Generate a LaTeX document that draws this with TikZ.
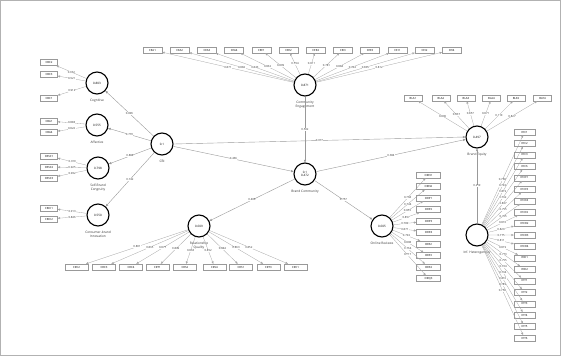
\documentclass[tikz,border=0pt]{standalone}
\usepackage{fontspec}
\setmainfont{Open Sans}
\usetikzlibrary{arrows.meta}
\begin{document}
\begin{tikzpicture}[x=1pt,y=-1pt,
  lv/.style={circle,draw=black,line width=1.1pt,minimum size=22pt,inner sep=0pt,align=center,font=\fontsize{3}{3.4}\selectfont},
  ind/.style={rectangle,draw=gray!80,line width=0.35pt,minimum width=19pt,minimum height=6pt,inner sep=0pt,font=\fontsize{2.8}{3}\selectfont},
  lbl/.style={font=\fontsize{3.2}{3.6}\selectfont,align=center,text=black!80},
  ld/.style={-{Triangle[length=2.4pt,width=2pt]},draw=gray!70,line width=0.3pt},
  pth/.style={-{Triangle[length=2.6pt,width=2.2pt]},draw=gray!80,line width=0.4pt},
  num/.style={midway,fill=white,inner sep=0.3pt,font=\fontsize{2.8}{3}\selectfont,text=black!80}]
\useasboundingbox (0,0) rectangle (561,356);
\draw[gray!60,line width=0.5pt] (0.5,0.5) rectangle (560.5,355.5);
% latent variables
\node[lv] (CE) at (305,85) {0.871};
\node[lbl,below=1pt] at (CE.south) {Community\\Engagement};
\node[lv] (CBI) at (162,144) {0.1};
\node[lbl,below=1pt] at (CBI.south) {CBI};
\node[lv] (BC) at (305,174) {0.1\\0.472};
\node[lbl,below=1pt] at (BC.south) {Brand Community};
\node[lv] (BE) at (477,137) {0.497};
\node[lbl,below=1pt] at (BE.south) {Brand Equity};
\node[lv] (OR) at (382,226) {0.605};
\node[lbl,below=1pt] at (OR.south) {Online Reviews};
\node[lv] (RQ) at (199,226) {0.609};
\node[lbl,below=1pt] at (RQ.south) {Relationship\\Quality};
\node[lv] (IH) at (477,235) {};
\node[lbl,below=1pt] at (IH.south) {Inf. Heterogeneity};
\node[lv] (COG) at (97,83) {0.803};
\node[lbl,below=1pt] at (COG.south) {Cognitive};
\node[lv] (AFF) at (97,125) {0.555};
\node[lbl,below=1pt] at (AFF.south) {Affective};
\node[lv] (SBC) at (98,168) {0.798};
\node[lbl,below=1pt] at (SBC.south) {Self-Brand\\Congruity};
\node[lv] (CBIN) at (98,215) {0.550};
\node[lbl,below=1pt] at (CBIN.south) {Consumer-brand\\Innovation};
% structural paths
\draw[pth] (CBI) -- node[num]{0.896} (COG);
\draw[pth] (CBI) -- node[num]{0.770} (AFF);
\draw[pth] (CBI) -- node[num]{0.884} (SBC);
\draw[pth] (CBI) -- node[num]{0.742} (CBIN);
\draw[pth] (CBI) -- node[num]{0.466} (BC);
\draw[pth] (CBI.east) -- node[num]{0.077} (BE.west);
\draw[pth] (CE) -- node[num]{0.502} (BC);
\draw[pth] (BC) -- node[num]{0.384} (BE);
\draw[pth] (BC) -- node[num]{0.757} (OR);
\draw[pth] (BC) -- node[num]{0.406} (RQ);
\draw[pth] (IH) -- node[num]{0.219} (BE);
% CE indicators
\foreach \t/\v [count=\i from 0] in {CEA1/0.871,CEA2/0.882,CEA3/0.843,CEA4/0.832,CEE1/0.809,CEE2/0.794,CEE4/0.811,CEI3/0.781,CEE3/0.884,CEI1/0.784,CEI2/0.805,CEI4/0.812}{
  \node[ind] (ce\i) at ({152.5+27.2*\i},50) {\t};
  \draw[ld] (CE) -- node[num]{\v} (ce\i);
}
% BE indicators
\foreach \t/\v/\x [count=\i from 0] in {BLA1/0.806/413,BLA2/0.837/441,BLA3/0.857/466,BLA4/0.871/491.5,BLE2/0.110/516,BLE4/0.827/542.5}{
  \node[ind,minimum width=18pt] (be\i) at (\x,98) {\t};
  \draw[ld] (BE) -- node[num]{\v} (be\i);
}
% Cognitive
\foreach \t/\v/\y [count=\i from 0] in {CBC2/0.932/62.5,CBC3/0.921/74.5,CBC1/0.912/98}{
  \node[ind,minimum width=17pt] (cog\i) at (49,\y) {\t};
  \draw[ld] (COG) -- node[num]{\v} (cog\i);
}
\foreach \t/\v/\y [count=\i from 0] in {CBA1/0.808/121,CBA4/0.822/132.5}{
  \node[ind,minimum width=17pt] (aff\i) at (49,\y) {\t};
  \draw[ld] (AFF) -- node[num]{\v} (aff\i);
}
\foreach \t/\v/\y [count=\i from 0] in {CBSC1/0.910/156,CBSC2/0.925/167,CBSC3/0.902/178}{
  \node[ind,minimum width=17pt] (sbc\i) at (49,\y) {\t};
  \draw[ld] (SBC) -- node[num]{\v} (sbc\i);
}
\foreach \t/\v/\y [count=\i from 0] in {CBCI1/0.913/208,CBCI2/0.846/219}{
  \node[ind,minimum width=17pt] (cbin\i) at (49,\y) {\t};
  \draw[ld] (CBIN) -- node[num]{\v} (cbin\i);
}
% RQ indicators
\foreach \t/\v/\x [count=\i from 0] in {CRC2/0.801/76.5,CRC3/0.865/104,CRC4/0.877/131,CRT1/0.849/157.5,CRS2/0.863/185,CRS4/0.852/214.5,CRS1/0.844/241,CRT3/0.863/268.5,CRC1/0.852/295.5}{
  \node[ind,minimum width=23pt] (rq\i) at (\x,267) {\t};
  \draw[ld] (RQ) -- node[num]{\v} (rq\i);
}
% OR indicators
\foreach \t/\v [count=\i from 0] in {ORN1/0.768,ORN2/0.744,ORP1/0.855,ORP2/0.857,ORP3/0.789,ORP4/0.871,ORF2/0.792,ORF3/0.808,ORF4/0.764,ORQ3/0.717}{
  \node[ind,minimum width=24pt] (or\i) at (428.5,{175+11.5*\i}) {\t};
  \draw[ld] (OR) -- node[num]{\v} (or\i);
}
% IH indicators
\foreach \t/\v [count=\i from 0] in {IHC1/0.768,IHC2/0.792,IHC3/0.819,IHC6/0.762,IHCF1/0.807,IHCF3/0.755,IHCF4/0.765,IHCF2/0.810,IHCR2/0.829,IHCR3/0.775,IHCR4/0.811,IHCI1/0.819,IHCI2/0.773,IHT1/0.755,IHT2/0.764,IHT3/0.764,IHT4/0.816,IHT5/0.789,IHT6/0.758}{
  \node[ind,minimum width=21pt] (ih\i) at (524.5,{132+11.45*\i}) {\t};
  \draw[ld] (IH) -- node[num]{\v} (ih\i);
}
\end{tikzpicture}
\end{document}
